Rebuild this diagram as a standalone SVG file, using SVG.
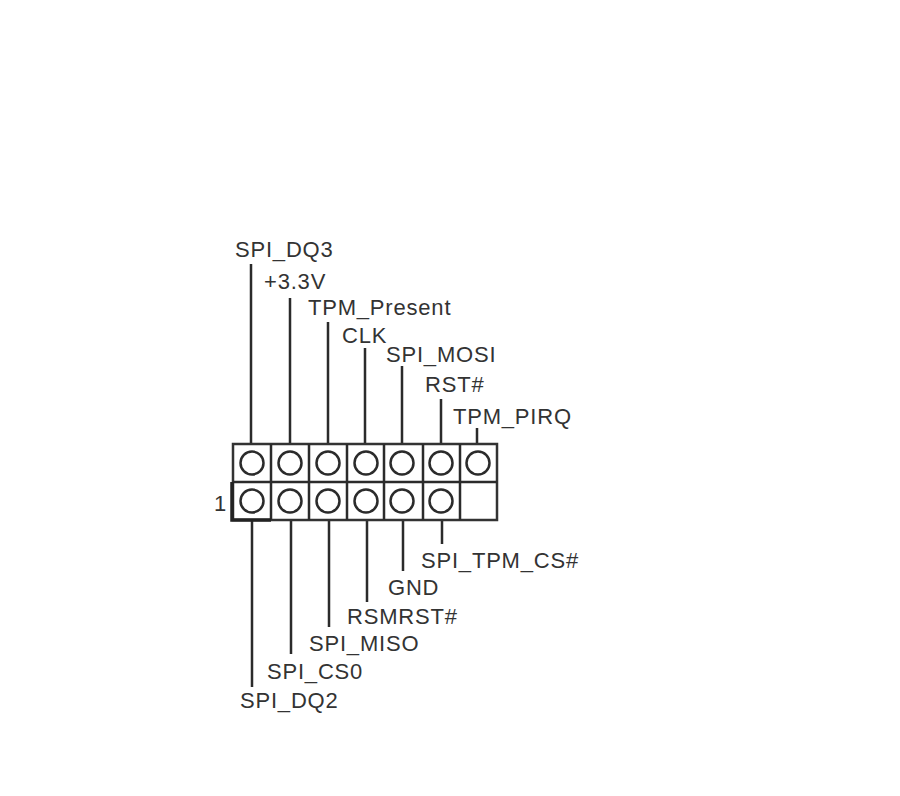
<svg xmlns="http://www.w3.org/2000/svg" width="900" height="796" viewBox="0 0 900 796">
<style>
text{font-family:"Liberation Sans",Arial,sans-serif;font-size:22px;fill:#333;letter-spacing:.8px}
.b{fill:#fff;stroke:#333;stroke-width:2.5}
.p{fill:#fff;stroke:#2b2b2b;stroke-width:2.5}
.c{fill:none;stroke:#2b2b2b;stroke-width:2.5}
</style>
<rect width="900" height="796" fill="#fff"/>
<g id="connectors" class="c">
<path d="M251 264V452M290 298V452M328 322V452M365 348V452M402 366V452M441 399V452M477 428V452"/>
<path d="M252 512V687M291 512V654M329 512V627M367 512V602M403 512V571M442 512V544"/>
</g>
<g id="header">
<rect class="b" x="233" y="444" width="264" height="76"/>
<path class="c" d="M233 482H497M271 444V520M309 444V520M347 444V520M384 444V520M423 444V520M460 444V520"/>
<path fill="none" stroke="#222" stroke-width="3.5" d="M232 482V520H271"/>
</g>
<g id="pins-top">
<circle class="p" cx="252" cy="463" r="11.5"/><circle class="p" cx="290" cy="463" r="11.5"/><circle class="p" cx="328" cy="463" r="11.5"/><circle class="p" cx="366" cy="463" r="11.5"/><circle class="p" cx="402" cy="463" r="11.5"/><circle class="p" cx="441" cy="463" r="11.5"/><circle class="p" cx="478" cy="463" r="11.5"/>
</g>
<g id="pins-bottom">
<circle class="p" cx="252" cy="501" r="11.5"/><circle class="p" cx="290" cy="501" r="11.5"/><circle class="p" cx="328" cy="501" r="11.5"/><circle class="p" cx="366" cy="501" r="11.5"/><circle class="p" cx="402" cy="501" r="11.5"/><circle class="p" cx="441" cy="501" r="11.5"/>
</g>
<g id="labels">
<text x="214" y="511">1</text>
<text x="235" y="257">SPI_DQ3</text>
<text x="264" y="289">+3.3V</text>
<text x="308" y="315">TPM_Present</text>
<text x="342" y="343">CLK</text>
<text x="386" y="362">SPI_MOSI</text>
<text x="425" y="392">RST#</text>
<text x="453" y="424">TPM_PIRQ</text>
<text x="421" y="568">SPI_TPM_CS#</text>
<text x="388" y="595">GND</text>
<text x="347" y="624">RSMRST#</text>
<text x="309" y="651">SPI_MISO</text>
<text x="267" y="679">SPI_CS0</text>
<text x="240" y="708">SPI_DQ2</text>
</g>
</svg>
